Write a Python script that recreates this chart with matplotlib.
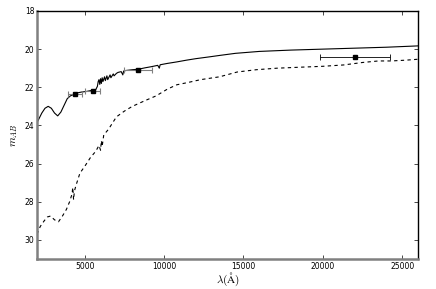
import matplotlib
matplotlib.use("Agg")
import matplotlib.pyplot as plt

plt.rcParams['mathtext.fontset'] = 'cm'

# model spectrum, observed frame (solid)
wave_obs = [2000, 2150, 2300, 2500, 2700, 2900, 3100, 3300, 3500, 3700, 3900, 4100, 4300,
            4500, 4800, 5100, 5400, 5700, 5800, 5850, 5900, 5950, 6000, 6050, 6100, 6150,
            6250, 6300, 6400, 6450, 6600, 6650, 6800, 6850, 7000, 7100, 7300, 7400, 7450,
            7600, 8000, 8400, 8800, 9200, 9600, 9700, 9750, 10200, 10800, 11400, 12000,
            12900, 13500, 14500, 16000, 18000, 20000, 22000, 24000, 26000]
mag_obs = [23.85, 23.6, 23.35, 23.1, 23.0, 23.1, 23.35, 23.5, 23.3, 22.95, 22.6, 22.45, 22.38,
           22.3, 22.25, 22.22, 22.17, 22.12, 21.95, 21.7, 21.6, 21.85, 21.55, 21.8, 21.5, 21.7,
           21.45, 21.65, 21.4, 21.6, 21.35, 21.5, 21.3, 21.4, 21.27, 21.22, 21.18, 21.35, 21.15,
           21.12, 21.08, 21.05, 20.98, 20.92, 20.85, 21.0, 20.82, 20.75, 20.67, 20.58, 20.5,
           20.4, 20.33, 20.22, 20.12, 20.05, 20.0, 19.95, 19.9, 19.83]

# model spectrum, fainter (dashed)
wave_rest = [2000, 2200, 2450, 2650, 2850, 3100, 3350, 3600, 3850, 4050, 4200, 4250, 4300,
             4350, 4450, 4700, 5000, 5350, 5700, 5900, 6000, 6050, 6100, 6200, 6500, 7000,
             7500, 8000, 8800, 9500, 10200, 10800, 11500, 12300, 13500, 14600, 15800, 17100,
             18500, 20000, 21300, 22500, 23500, 24300, 25200, 26000]
mag_rest = [29.7, 29.3, 29.0, 28.8, 28.75, 28.95, 29.05, 28.75, 28.4, 28.0, 27.6, 27.25, 27.9,
            27.45, 27.15, 26.5, 26.15, 25.7, 25.35, 25.05, 25.3, 24.8, 25.1, 24.5, 24.2, 23.55,
            23.25, 23.0, 22.7, 22.45, 22.1, 21.87, 21.75, 21.6, 21.45, 21.2, 21.08, 21.0,
            20.95, 20.9, 20.83, 20.7, 20.62, 20.62, 20.58, 20.53]

# photometry
phot_wave = [4370, 5510, 8340, 22030]
phot_mag = [22.36, 22.19, 21.09, 20.42]
phot_werr = [450, 480, 870, 2200]

fig, ax = plt.subplots(figsize=(4.36, 2.89), dpi=100)
fig.subplots_adjust(left=0.085, right=0.959, top=0.962, bottom=0.104)

ax.plot(wave_obs, mag_obs, color='black', lw=0.8)
ax.plot(wave_rest, mag_rest, color='black', lw=0.8, ls='--', dashes=(3, 3))
ax.errorbar(phot_wave[:3], phot_mag[:3], xerr=phot_werr[:3], fmt='s', color='black',
            ecolor='gray', ms=3, capsize=2, elinewidth=0.8, capthick=0.8)
ax.errorbar(phot_wave[3:], phot_mag[3:], xerr=phot_werr[3:], fmt='s', color='black',
            ecolor='black', ms=3, capsize=2, elinewidth=0.6, capthick=0.6)

ax.set_xlim(2000, 26000)
ax.set_ylim(31, 18)
ax.set_xticks([5000, 10000, 15000, 20000, 25000])
ax.set_yticks([18, 20, 22, 24, 26, 28, 30])
ax.tick_params(direction='in', labelsize=5.5, length=3, width=0.5, top=True, right=True, pad=2)

for s in ['left', 'bottom']:
    ax.spines[s].set_color('gray')
    ax.spines[s].set_linewidth(1.8)
for s in ['top', 'right']:
    ax.spines[s].set_linewidth(1.0)

ax.set_xlabel(r'$\lambda(\mathrm{\AA})$', fontsize=8, labelpad=0)
ax.set_ylabel(r'$m_{AB}$', fontsize=8, labelpad=3)

fig.savefig('out.png', dpi=100)
